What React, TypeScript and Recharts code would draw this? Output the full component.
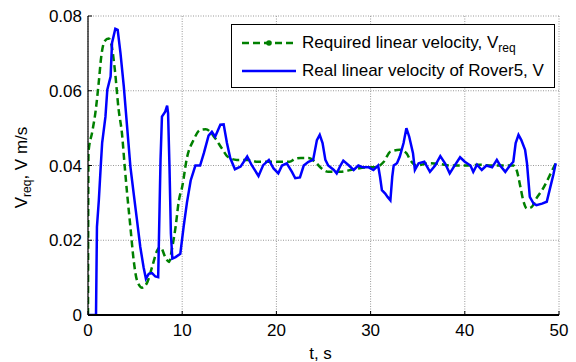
import { LineChart, Line, XAxis, YAxis, CartesianGrid, Legend } from "recharts";

const FONT = "'Liberation Sans', Arial, Helvetica, sans-serif";

// required (reference) linear velocity, green dashed
const reqTime = [
  0, 0.05, 0.45, 0.8, 1.15, 1.4, 1.75, 2.2, 2.55, 2.85,
  3.25, 3.6, 3.9, 4.15, 4.5, 4.85, 5.2, 5.75, 6.3, 6.8,
  7.35, 7.7, 8.2, 8.6, 8.95, 9.3, 9.65, 10.0, 10.5, 11.2,
  11.9, 12.5, 13.5, 14.2, 14.9, 15.8, 17.0, 18.0, 19.0, 20.4,
  21.4, 22.0, 22.6, 23.4, 24.1, 24.8, 25.5, 26.8, 28.2, 29.6,
  30.5, 31.4, 32.1, 33.1, 33.8, 34.2, 34.9, 36.2, 37.4, 38.5,
  40.0, 41.5, 43.0, 44.5, 45.15, 45.5, 45.9, 46.2, 46.6, 47.1,
  47.6, 48.2, 48.7, 49.2, 49.65,
];
const reqVelocity = [
  0, 0.0435, 0.049, 0.0544, 0.0625, 0.069, 0.0732, 0.074, 0.0715, 0.0656,
  0.055, 0.0487, 0.0397, 0.0326, 0.0236, 0.0146, 0.0093, 0.0073, 0.0088, 0.0128,
  0.0173, 0.0182, 0.0155, 0.0142, 0.0182, 0.0236, 0.0307, 0.0343, 0.042, 0.0468,
  0.0495, 0.0497, 0.0473, 0.0446, 0.0422, 0.0415, 0.0415, 0.041, 0.041, 0.041,
  0.041, 0.0418, 0.042, 0.042, 0.041, 0.0392, 0.0383, 0.0383, 0.039, 0.0395,
  0.0395, 0.041, 0.0437, 0.0442, 0.0433, 0.0415, 0.04, 0.0406, 0.0404, 0.04,
  0.04, 0.0402, 0.04, 0.04, 0.04, 0.0388, 0.0343, 0.0307, 0.0285, 0.0289,
  0.0312, 0.0334, 0.0357, 0.0383, 0.0406,
];

// measured velocity of Rover5, blue solid
const realTime = [
  0, 0.85, 0.95, 1.15, 1.35, 1.5, 1.85, 2.05, 2.4, 2.55,
  2.9, 3.15, 3.45, 3.8, 4.15, 4.5, 4.85, 5.2, 5.55, 5.9,
  6.15, 6.45, 6.8, 7.15, 7.45, 7.6, 7.7, 7.85, 8.2, 8.4,
  8.5, 8.65, 8.8, 8.95, 9.3, 9.8, 10.15, 10.5, 10.9, 11.4,
  11.9, 12.3, 12.8, 13.15, 13.5, 14.05, 14.4, 14.75, 15.1, 15.6,
  16.2, 16.9, 17.4, 18.1, 18.6, 19.2, 19.7, 20.2, 20.6, 21.1,
  21.65, 22.0, 22.5, 22.9, 23.4, 23.9, 24.3, 24.6, 24.9, 25.2,
  25.5, 26.1, 26.4, 26.8, 27.1, 27.7, 28.2, 28.7, 29.2, 29.8,
  30.3, 30.8, 31.0, 31.2, 31.55, 31.8, 32.1, 32.3, 32.45, 32.8,
  33.1, 33.5, 33.8, 34.1, 34.5, 34.7, 35.1, 35.7, 36.3, 36.85,
  37.4, 37.9, 38.4, 38.8, 39.5, 40.0, 40.6, 40.9, 41.3, 41.8,
  42.3, 42.9, 43.4, 43.75, 44.3, 44.8, 45.15, 45.4, 45.7, 46.0,
  46.4, 46.6, 46.75, 46.9, 47.3, 47.6, 48.2, 48.7, 49.0, 49.4,
  49.65,
];
const realVelocity = [
  0, 0, 0.0236, 0.0307, 0.0397, 0.046, 0.053, 0.0603, 0.0638, 0.0728,
  0.0766, 0.0763, 0.07, 0.0612, 0.0504, 0.0397, 0.0325, 0.0254, 0.0182, 0.0128,
  0.0097, 0.011, 0.0112, 0.0103, 0.0101, 0.029, 0.0415, 0.0531, 0.0544, 0.056,
  0.054, 0.0397, 0.0218, 0.0151, 0.0155, 0.0164, 0.0236, 0.03, 0.036, 0.04,
  0.04, 0.0433, 0.048, 0.049, 0.0477, 0.0509, 0.051, 0.046, 0.042, 0.039,
  0.0397, 0.0424, 0.04, 0.0372, 0.0401, 0.0415, 0.0392, 0.0379, 0.04, 0.0406,
  0.0383, 0.0366, 0.0368, 0.04, 0.041, 0.0415, 0.0468, 0.0482, 0.046, 0.0415,
  0.04, 0.0388, 0.0379, 0.04, 0.0413, 0.04, 0.0388, 0.04, 0.0395, 0.0395,
  0.0388, 0.04, 0.037, 0.0334, 0.0325, 0.0316, 0.0307, 0.037, 0.04, 0.0406,
  0.0424, 0.046, 0.05, 0.0477, 0.0433, 0.0388, 0.0406, 0.041, 0.0383, 0.04,
  0.0425, 0.0406, 0.0379, 0.0395, 0.0422, 0.041, 0.04, 0.0383, 0.0402, 0.0388,
  0.04, 0.0395, 0.0415, 0.04, 0.0383, 0.04, 0.041, 0.046, 0.0482, 0.0468,
  0.0442, 0.0406, 0.0361, 0.0316, 0.0298, 0.0294, 0.0298, 0.0303, 0.0334, 0.0375,
  0.0406,
];

const timeTicks = [0, 10, 20, 30, 40, 50];
const velocityTicks = [0, 0.02, 0.04, 0.06, 0.08];

const reqData = reqTime.map((t, i) => ({ t, v: reqVelocity[i] }));
const realData = realTime.map((t, i) => ({ t, v: realVelocity[i] }));

const tickStyle = { fill: "#000", fontSize: 17, fontFamily: FONT };

const YLabel = ({ viewBox }: any) => {
  const cy = viewBox.y + viewBox.height / 2 + 2;
  const x = 27;
  return (
    <text
      x={x}
      y={cy}
      transform={`rotate(-90 ${x} ${cy})`}
      textAnchor="middle"
      fontSize={17}
      fontFamily={FONT}
      fill="#000"
    >
      V
      <tspan fontSize={12} dy={4}>
        req
      </tspan>
      <tspan dy={-4}>, V m/s</tspan>
    </text>
  );
};

const XLabel = ({ viewBox }: any) => (
  <text
    x={viewBox.x + viewBox.width / 2 - 3}
    y={359}
    textAnchor="middle"
    fontSize={17}
    fontFamily={FONT}
    fill="#000"
  >
    t, s
  </text>
);

const LegendBox = () => (
  <div
    style={{
      width: 324,
      height: 64,
      boxSizing: "border-box",
      border: "1px solid #000",
      background: "#fff",
      position: "relative",
      fontFamily: FONT,
      fontSize: 17,
      color: "#000",
    }}
  >
    <div style={{ position: "absolute", left: 10, top: 8, height: 20, display: "flex", alignItems: "center" }}>
      <svg width={54} height={10}>
        <line x1={0} y1={5} x2={54} y2={5} stroke="#008000" strokeWidth={2.5} strokeDasharray="7 4" />
        <circle cx={27} cy={5} r={2.8} fill="#008000" />
      </svg>
      <span style={{ marginLeft: 6, whiteSpace: "nowrap", lineHeight: "20px" }}>
        Required linear velocity, V
        <span style={{ fontSize: 12, lineHeight: 0, verticalAlign: "-4px" }}>req</span>
      </span>
    </div>
    <div style={{ position: "absolute", left: 10, top: 36, height: 20, display: "flex", alignItems: "center" }}>
      <svg width={54} height={10}>
        <line x1={0} y1={5} x2={54} y2={5} stroke="#0000ff" strokeWidth={2.5} />
      </svg>
      <span style={{ marginLeft: 6, whiteSpace: "nowrap", lineHeight: "20px" }}>
        Real linear velocity of Rover5, V
      </span>
    </div>
  </div>
);

export default function App() {
  return (
    <div style={{ width: 576, height: 362, background: "#fff" }}>
      <style>{`body{margin:0;background:#fff}`}</style>
      <LineChart width={576} height={362} margin={{ top: 16, right: 17, bottom: 0, left: 0 }}>
        <CartesianGrid stroke="#999" strokeDasharray="1 1.5" />
        <XAxis
          dataKey="t"
          type="number"
          domain={[0, 50]}
          ticks={timeTicks}
          interval={0}
          allowDataOverflow
          height={47}
          axisLine={{ stroke: "#000", strokeWidth: 2 }}
          tickLine={{ stroke: "#000" }}
          tickSize={-4}
          tickMargin={13}
          tick={tickStyle}
          label={{ content: (p: any) => <XLabel viewBox={p.viewBox} /> }}
        />
        <XAxis
          xAxisId="top"
          orientation="top"
          type="number"
          domain={[0, 50]}
          ticks={timeTicks}
          interval={0}
          allowDataOverflow
          height={0}
          axisLine={{ stroke: "#000", strokeWidth: 1.2 }}
          tickLine={{ stroke: "#000" }}
          tickSize={-4}
          tick={false}
        />
        <YAxis
          type="number"
          domain={[0, 0.08]}
          ticks={velocityTicks}
          interval={0}
          allowDataOverflow
          width={88}
          axisLine={{ stroke: "#000", strokeWidth: 1.2 }}
          tickLine={{ stroke: "#000" }}
          tickSize={-4}
          tickMargin={10}
          tick={tickStyle}
          label={{ content: (p: any) => <YLabel viewBox={p.viewBox} /> }}
        />
        <YAxis
          yAxisId="right"
          orientation="right"
          type="number"
          domain={[0, 0.08]}
          ticks={velocityTicks}
          interval={0}
          allowDataOverflow
          width={0}
          axisLine={{ stroke: "#000", strokeWidth: 1.2 }}
          tickLine={{ stroke: "#000" }}
          tickSize={-4}
          tick={false}
        />
        <Legend
          layout="vertical"
          align="center"
          verticalAlign="middle"
          wrapperStyle={{ position: "absolute", top: 24, left: 231, width: 324, height: 64 }}
          content={() => <LegendBox />}
        />
        <Line
          data={reqData}
          dataKey="v"
          type="monotone"
          stroke="#008000"
          strokeWidth={2.5}
          strokeDasharray="7 4"
          dot={false}
          isAnimationActive={false}
        />
        <Line
          data={realData}
          dataKey="v"
          type="linear"
          stroke="#0000ff"
          strokeWidth={2.5}
          dot={false}
          isAnimationActive={false}
        />
      </LineChart>
    </div>
  );
}
